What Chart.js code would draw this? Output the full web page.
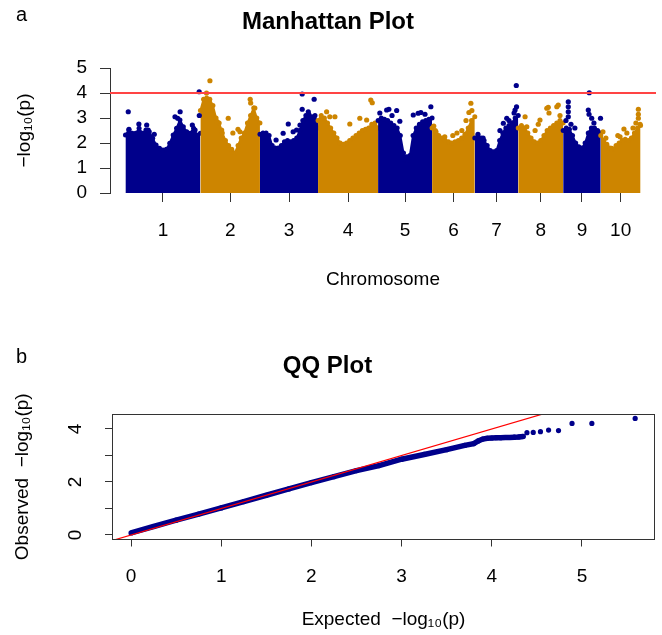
<!DOCTYPE html>
<html>
<head>
<meta charset="utf-8">
<script src="https://cdn.jsdelivr.net/npm/chart.js@4.4.1/dist/chart.umd.min.js"></script>
<style>
  html, body { margin: 0; padding: 0; background: #ffffff; }
  #wrap { position: relative; width: 662px; height: 635px; overflow: hidden; background: #fff; }
  canvas { position: absolute; left: 0; }
  .panel { position: absolute; font-family: 'Liberation Sans', Arial, sans-serif; font-size: 20px; line-height: 20px; color: #000; }
</style>
</head>
<body>
<div id="wrap">
  <canvas id="man" width="662" height="300" style="top:0px"></canvas>
  <canvas id="qq" width="662" height="335" style="top:300px"></canvas>
  <div class="panel" style="left:16px; top:4px;">a</div>
  <div class="panel" style="left:16px; top:346px;">b</div>
</div>
<script>
// ---------------- DATA ----------------
const chrLabels = ['1', '2', '3', '4', '5', '6', '7', '8', '9', '10'];
const chrLengthMb = [307, 244, 238, 246, 221, 175, 178, 184, 154, 163];
const chrColors = ['#00008B', '#CD8500'];

// upper edge of the dense SNP cloud per chromosome (-log10 p), evenly along each chromosome
const envChr1 = [2.32, 2.52, 2.39, 2.39, 2.59, 2.39, 2.52, 2.45, 2.19, 1.92, 1.79, 1.72, 1.75, 1.99, 2.32, 2.59, 2.92, 2.65, 2.45, 2.39, 2.59, 2.32, 2.39];
const envChr2 = [3.3, 3.75, 3.8, 3.75, 3.5, 3.0, 2.8, 2.4, 2.1, 1.9, 1.75, 1.6, 1.9, 2.2, 2.4, 2.8, 3.1, 3.4, 3.0, 2.8];
const envChr3 = [2.35, 2.4, 2.4, 2.3, 1.9, 1.8, 1.8, 1.9, 2.05, 2.1, 2.05, 2.1, 2.2, 2.5, 2.9, 3.1, 3.15, 3.05, 3.1, 2.6];
const envChr4 = [2.9, 3.1, 3.0, 2.8, 2.6, 2.4, 2.2, 2.0, 1.95, 2.0, 2.1, 2.2, 2.3, 2.4, 2.5, 2.55, 2.6, 2.75, 2.8, 2.6];
const envChr5 = [2.9, 3.0, 2.95, 2.9, 2.8, 2.7, 2.6, 2.3, 1.6, 1.3, 1.5, 2.3, 2.6, 2.75, 2.85, 2.9, 2.95, 3.0];
const envChr6 = [2.6, 2.5, 2.3, 2.2, 2.1, 2.05, 2.0, 2.05, 2.1, 2.2, 2.35, 2.6, 2.9, 3.05];
const envChr7 = [2.2, 2.25, 2.2, 2.1, 1.9, 1.7, 1.65, 1.7, 2.1, 2.4, 2.6, 2.7, 2.8, 3.0, 3.1];
const envChr8 = [2.6, 2.7, 2.6, 2.4, 2.2, 2.05, 2.0, 2.1, 2.3, 2.5, 2.6, 2.7, 2.8, 2.9, 2.8];
const envChr9 = [2.5, 2.6, 2.55, 2.3, 2.0, 1.85, 1.8, 2.0, 2.4, 2.6, 2.6, 2.5, 2.4];
const envChr10 = [2.3, 2.1, 1.95, 1.8, 1.75, 1.9, 2.0, 2.1, 2.15, 2.1, 2.2, 2.4, 2.6, 2.7];

// individual SNPs standing out above the cloud: [chromosome, position (Mb), -log10 p]
const peakSNPs = [
  [1, 11.5, 3.25], [1, 14.4, 2.55], [1, 55, 2.76], [1, 87, 2.72], [1, 93, 2.52], [1, 118, 2.35],
  [1, 203, 3.05], [1, 214, 2.99], [1, 224, 3.25], [1, 274, 2.72], [1, 285, 2.52], [1, 302, 4.05], [1, 302.5, 3.1],
  [2, 25, 4.0], [2, 39, 4.49], [2, 69, 2.85], [2, 87, 2.52], [2, 114, 2.99], [2, 133, 2.4], [2, 154, 2.55],
  [2, 162, 2.45], [2, 204, 3.75], [2, 206, 3.6], [2, 223, 3.4],
  [3, 66, 2.12], [3, 95, 2.39], [3, 116, 2.76], [3, 136, 2.45], [3, 150, 2.52], [3, 164, 2.72],
  [3, 173, 3.35], [3, 173, 3.96], [3, 198, 3.25], [3, 222, 3.75],
  [4, 35, 3.25], [4, 48, 3.05], [4, 69, 3.05], [4, 130, 2.76], [4, 171, 2.99], [4, 199, 2.92], [4, 216, 3.72], [4, 222, 3.61],
  [5, 7, 3.2], [5, 35, 3.32], [5, 44, 3.35], [5, 57, 3.1], [5, 76, 3.3], [5, 89, 2.87], [5, 110, 1.35], [5, 117, 1.45],
  [5, 144, 3.12], [5, 164, 3.19], [5, 175, 3.22], [5, 192, 3.15], [5, 216, 3.45],
  [6, 7, 2.68], [6, 16, 2.45], [6, 52, 2.25], [6, 85, 2.3], [6, 102, 2.4], [6, 122, 2.5], [6, 139, 2.9],
  [6, 151, 3.22], [6, 159, 3.59], [6, 163, 3.3],
  [7, 13, 2.35], [7, 34, 2.2], [7, 103, 2.5], [7, 117, 2.79], [7, 131, 2.99], [7, 140, 2.9], [7, 161, 3.2],
  [7, 165, 3.32], [7, 170, 4.3], [7, 171, 3.45],
  [8, 28, 3.05], [8, 35, 2.65], [8, 69, 2.5], [8, 82, 2.75], [8, 89, 2.92], [8, 117, 3.39], [8, 123, 3.43],
  [8, 126, 3.2], [8, 158, 3.45], [8, 164, 3.52], [8, 171, 3.1],
  [9, 11.5, 2.9], [9, 21, 3.65], [9, 21, 3.45], [9, 21, 3.25], [9, 21, 3.05], [9, 32, 2.75], [9, 48, 2.6],
  [9, 103, 3.32], [9, 106, 3.15], [9, 107, 4.01], [9, 117, 2.99], [9, 126, 2.8], [9, 153, 2.99],
  [10, 9, 2.45], [10, 21, 2.2], [10, 45, 1.79], [10, 70, 2.3], [10, 79, 2.25], [10, 95, 2.56], [10, 107, 2.4],
  [10, 132, 2.6], [10, 144, 2.8], [10, 154, 3.35], [10, 154, 3.15], [10, 154, 2.99], [10, 161, 2.75]
];
const suggestiveLine = 4;
const manYTicks = [0, 1, 2, 3, 4, 5];

// QQ plot: expected vs observed -log10 p
const qqExpected = [0, 0.25, 0.5, 0.75, 1.0, 1.25, 1.5, 1.75, 2.0, 2.25, 2.5, 2.75, 3.0, 3.25, 3.5, 3.7, 3.8, 3.85, 3.9, 3.95, 4.0, 4.05, 4.1, 4.15, 4.2, 4.25, 4.3, 4.35];
const qqObserved = [0.08, 0.32, 0.56, 0.79, 1.02, 1.26, 1.5, 1.74, 1.98, 2.2, 2.43, 2.62, 2.86, 3.04, 3.22, 3.38, 3.45, 3.55, 3.62, 3.65, 3.66, 3.67, 3.67, 3.68, 3.68, 3.69, 3.7, 3.72];
const qqTailExpected = [4.39, 4.46, 4.54, 4.63, 4.74, 4.89, 5.11, 5.59];
const qqTailObserved = [3.86, 3.87, 3.9, 3.96, 3.94, 4.21, 4.21, 4.40];
const qqXTicks = [0, 1, 2, 3, 4, 5];
const qqYTicks = [0, 1, 2, 3, 4];

// ---------------- CHARTS ----------------
Chart.defaults.font.family = "'Liberation Sans', Arial, Helvetica, sans-serif";
Chart.defaults.font.size = 19;
Chart.defaults.color = '#000';
Chart.defaults.animation = false;

const envelopes = [envChr1, envChr2, envChr3, envChr4, envChr5, envChr6, envChr7, envChr8, envChr9, envChr10];
const chrStart = [];
let acc = 0;
chrLengthMb.forEach(l => { chrStart.push(acc); acc += l; });
const totalMb = acc;
const chrCenter = chrStart.map((s, i) => s + chrLengthMb[i] / 2);

const manDatasets = envelopes.map((env, i) => ({
  data: env.map((v, j) => ({ x: chrStart[i] + (j / (env.length - 1)) * chrLengthMb[i], y: v })),
  borderColor: chrColors[i % 2],
  backgroundColor: chrColors[i % 2],
  pointBackgroundColor: chrColors[i % 2],
  borderWidth: 2,
  fill: 'origin',
  pointRadius: 2.5,
  pointBorderWidth: 0,
  tension: 0,
  order: 30 - i
}));
manDatasets.push({
  data: peakSNPs.map(p => ({ x: chrStart[p[0] - 1] + p[1], y: p[2] })),
  showLine: false,
  pointRadius: 2.6,
  pointBorderWidth: 0,
  pointBackgroundColor: peakSNPs.map(p => chrColors[(p[0] - 1) % 2]),
  order: 2
});
manDatasets.push({
  data: [{ x: -0.03 * totalMb, y: suggestiveLine }, { x: 1.03 * totalMb, y: suggestiveLine }],
  borderColor: '#ff4444',
  borderWidth: 1.8,
  pointRadius: 0,
  fill: false,
  order: 1
});

new Chart(document.getElementById('man'), {
  type: 'line',
  data: { datasets: manDatasets },
  options: {
    responsive: false,
    events: [],
    layout: { padding: { left: 0, right: 6, top: 0, bottom: 0 } },
    plugins: {
      legend: { display: false },
      tooltip: { enabled: false },
      title: { display: true, text: 'Manhattan Plot', color: '#000', font: { size: 24, weight: 'bold' }, padding: { top: 7.6, bottom: 31.6 } }
    },
    scales: {
      x: {
        type: 'linear', min: -0.03 * totalMb, max: 1.03 * totalMb,
        afterBuildTicks: s => { s.ticks = chrCenter.map(v => ({ value: v })); },
        afterFit: s => { s.height = 107; },
        ticks: { autoSkip: false, maxRotation: 0, minRotation: 0, padding: 17, color: '#000', callback: (v, i) => chrLabels[i] },
        grid: { display: true, drawOnChartArea: false, drawTicks: true, tickLength: 9, color: '#333' },
        border: { display: false },
        title: { display: true, text: 'Chromosome', color: '#000', padding: { top: 0, bottom: 8.6 } }
      },
      y: {
        min: 0, max: 5,
        afterBuildTicks: s => { s.ticks = manYTicks.map(v => ({ value: v })); },
        afterFit: s => { s.width = 110; },
        ticks: { autoSkip: false, padding: 13, color: '#000' },
        grid: { display: true, drawOnChartArea: false, tickLength: 10, color: '#333' },
        border: { display: true, color: '#333' },
        title: { display: true, text: '−log₁₀(p)', color: '#000', padding: { top: 13.6, bottom: 0 } }
      }
    }
  }
});

const boxPlugin = {
  id: 'box',
  afterDraw(chart) {
    const { ctx, chartArea: a } = chart;
    ctx.save();
    ctx.strokeStyle = '#333';
    ctx.lineWidth = 1;
    ctx.strokeRect(Math.round(a.left) + 0.5, Math.round(a.top) + 0.5, Math.round(a.right - a.left) - 1, Math.round(a.bottom - a.top) - 1);
    ctx.restore();
  }
};

new Chart(document.getElementById('qq'), {
  type: 'line',
  data: {
    datasets: [
      {
        data: qqExpected.map((e, i) => ({ x: e, y: qqObserved[i] })),
        borderColor: '#00008B', borderWidth: 5.5, pointRadius: 2.6, pointBorderWidth: 0,
        pointBackgroundColor: '#00008B', fill: false, tension: 0, order: 3
      },
      {
        data: qqTailExpected.map((e, i) => ({ x: e, y: qqTailObserved[i] })),
        showLine: false, pointRadius: 2.6, pointBorderWidth: 0, pointBackgroundColor: '#00008B', order: 2
      },
      {
        data: [{ x: -0.3, y: -0.3 }, { x: 5, y: 5 }],
        borderColor: '#ff0000', borderWidth: 1.2, pointRadius: 0, fill: false, order: 1
      }
    ]
  },
  options: {
    responsive: false,
    events: [],
    layout: { padding: { left: 0, right: 7, top: 0, bottom: 0 } },
    plugins: {
      legend: { display: false },
      tooltip: { enabled: false },
      title: { display: true, text: 'QQ Plot', color: '#000', font: { size: 24, weight: 'bold' }, padding: { top: 52.3, bottom: 32.9 } }
    },
    scales: {
      x: {
        type: 'linear', min: -0.211, max: 5.81,
        afterBuildTicks: s => { s.ticks = qqXTicks.map(v => ({ value: v })); },
        afterFit: s => { s.height = 95.5; },
        ticks: { autoSkip: false, maxRotation: 0, minRotation: 0, padding: 18.8, color: '#000' },
        grid: { display: true, drawOnChartArea: false, tickLength: 7, color: '#333' },
        border: { display: false },
        title: { display: true, text: 'Expected  −log₁₀(p)', color: '#000', padding: { top: 0, bottom: 3.6 } }
      },
      y: {
        min: -0.17, max: 4.566,
        afterBuildTicks: s => { s.ticks = qqYTicks.map(v => ({ value: v })); },
        afterFit: s => { s.width = 112; },
        ticks: { autoSkip: false, minRotation: 90, maxRotation: 90, crossAlign: 'center', padding: 23.7, color: '#000',
                 callback: v => (v % 2 === 0 ? String(v) : '') },
        grid: { display: true, drawOnChartArea: false, tickLength: 7, color: '#333' },
        border: { display: false },
        title: { display: true, text: 'Observed  −log₁₀(p)', color: '#000', padding: { top: 11.6, bottom: 0 } }
      }
    }
  },
  plugins: [boxPlugin]
});
</script>
</body>
</html>
